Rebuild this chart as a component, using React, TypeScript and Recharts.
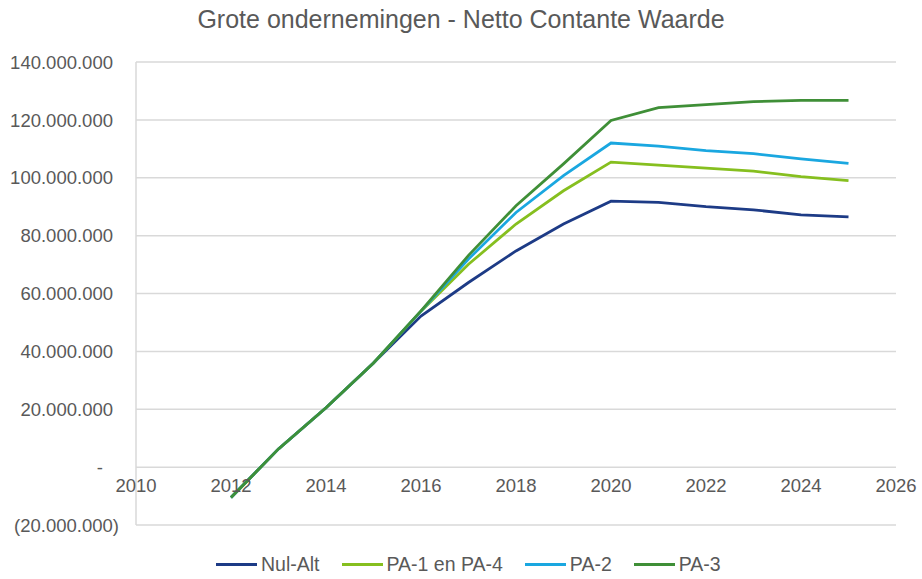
import { LineChart, Line, XAxis, YAxis, CartesianGrid } from 'recharts';

// Netto Contante Waarde per scenario (in euro)
const years = [2012, 2013, 2014, 2015, 2016, 2017, 2018, 2019, 2020, 2021, 2022, 2023, 2024, 2025];
const nulAlt = [-10.5e6, 6.3e6, 20.5e6, 36.0e6, 52.2e6, 63.8e6, 74.7e6, 84.0e6, 91.9e6, 91.5e6, 90.0e6, 88.9e6, 87.2e6, 86.5e6];
const pa1en4 = [-10.5e6, 6.3e6, 20.5e6, 36.0e6, 53.9e6, 70.1e6, 84.0e6, 95.5e6, 105.4e6, 104.4e6, 103.3e6, 102.3e6, 100.4e6, 99.0e6];
const pa2 = [-10.5e6, 6.3e6, 20.5e6, 36.0e6, 53.9e6, 71.9e6, 88.0e6, 100.7e6, 112.0e6, 110.9e6, 109.4e6, 108.3e6, 106.5e6, 105.0e6];
const pa3 = [-10.5e6, 6.3e6, 20.5e6, 36.0e6, 54.0e6, 73.2e6, 90.3e6, 104.8e6, 119.8e6, 124.2e6, 125.3e6, 126.3e6, 126.7e6, 126.7e6];

const xTicks = [2010, 2012, 2014, 2016, 2018, 2020, 2022, 2024, 2026];
const yTicks = [-20e6, 0, 20e6, 40e6, 60e6, 80e6, 100e6, 120e6, 140e6];

const series = [
  { key: 'nulAlt', name: 'Nul-Alt', color: '#1d3b86', values: nulAlt },
  { key: 'pa1en4', name: 'PA-1 en PA-4', color: '#86bf1f', values: pa1en4 },
  { key: 'pa2', name: 'PA-2', color: '#1aa7e0', values: pa2 },
  { key: 'pa3', name: 'PA-3', color: '#3f8f37', values: pa3 },
];

const data = years.map((year, i) => {
  const row: Record<string, number> = { year };
  series.forEach((s) => {
    row[s.key] = s.values[i];
  });
  return row;
});

const W = 922;
const H = 579;
const xAxisHeight = 1;
const margin = { top: 62, right: 26, bottom: 54 - xAxisHeight, left: 0 };
const yAxisWidth = 136;
const plotHeight = H - margin.top - margin.bottom - xAxisHeight;
const yMin = yTicks[0];
const yMax = yTicks[yTicks.length - 1];
// x labels sit just under the zero line, like Excel's crossing axis
const zeroFromBottom = (plotHeight * (0 - yMin)) / (yMax - yMin);

const textColor = '#595959';
const font = 'Arial, "Liberation Sans", sans-serif';

const fmt = (v: number) => Math.abs(v).toLocaleString('nl-NL');

const YTick = (props: any) => {
  const { x, y, payload } = props;
  const v = payload.value as number;
  let label = fmt(v);
  let dx = 0;
  if (v === 0) {
    label = '-';
    dx = -10;
  } else if (v < 0) {
    label = `(${fmt(v)})`;
    dx = 6;
  }
  return (
    <text x={x + dx} y={y} dy="0.36em" textAnchor="end" fill={textColor} fontSize={18.5} fontFamily={font}>
      {label}
    </text>
  );
};

export default function App() {
  return (
    <div style={{ position: 'absolute', left: 0, top: 0, width: W, height: H, background: '#fff', fontFamily: font }}>
      <div
        style={{
          position: 'absolute',
          top: 5,
          left: 0,
          width: W,
          textAlign: 'center',
          fontSize: 25,
          color: textColor,
        }}
      >
        Grote ondernemingen - Netto Contante Waarde
      </div>
      <LineChart width={W} height={H} data={data} margin={margin}>
        <CartesianGrid vertical={false} stroke="#d9d9d9" strokeWidth={1.5} />
        <XAxis
          dataKey="year"
          type="number"
          domain={[2010, 2026]}
          ticks={xTicks}
          height={xAxisHeight}
          axisLine={false}
          tickLine={false}
          tickSize={0}
          tickMargin={-zeroFromBottom + 12}
          tick={{ fill: textColor, fontSize: 18.5, fontFamily: font }}
          interval={0}
        />
        <YAxis
          width={yAxisWidth}
          domain={[yMin, yMax]}
          ticks={yTicks}
          axisLine={{ stroke: '#d9d9d9', strokeWidth: 1.5 }}
          tickLine={false}
          tickSize={0}
          tickMargin={23}
          tick={<YTick />}
          interval={0}
        />
        {series.map((s) => (
          <Line
            key={s.key}
            type="linear"
            dataKey={s.key}
            name={s.name}
            stroke={s.color}
            strokeWidth={2.75}
            dot={false}
            isAnimationActive={false}
          />
        ))}
      </LineChart>
      <div
        style={{
          position: 'absolute',
          top: 553,
          left: 216,
          display: 'flex',
          alignItems: 'center',
          fontSize: 19.5,
          color: textColor,
        }}
      >
        {series.map((s) => (
          <div key={s.key} style={{ display: 'flex', alignItems: 'center', marginRight: 22 }}>
            <span style={{ display: 'inline-block', width: 41, height: 3, background: s.color, marginRight: 4 }} />
            <span>{s.name}</span>
          </div>
        ))}
      </div>
    </div>
  );
}
